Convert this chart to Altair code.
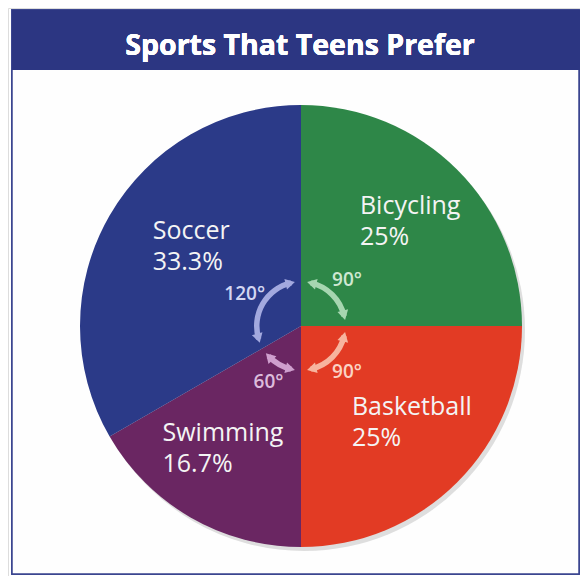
import altair as alt
import pandas as pd

# ---- data ----
SPORTS = ["Bicycling", "Basketball", "Swimming", "Soccer"]
PERCENT_LABELS = ["25%", "25%", "16.7%", "33.3%"]
DEGREES = [90, 90, 60, 120]
ANGLE_LABELS = ["90°", "90°", "60°", "120°"]
ORDER = [0, 1, 2, 3]

SLICE_COLORS = ["#2e8748", "#e23b24", "#6a2662", "#2b3a88"]
ARROW_COLORS = ["#a6d6b0", "#f7b49e", "#cf9fce", "#a3a9df"]
ANGLE_TEXT_COLORS = ["#cfe8d2", "#fbd3c4", "#dcbcdc", "#d3d6f2"]

TITLE = "Sports That Teens Prefer"

df = pd.DataFrame({"sport": SPORTS, "pct": PERCENT_LABELS, "deg": DEGREES,
                   "angle_label": ANGLE_LABELS, "order": ORDER})

# ---- layout ----
W, H = 572, 568
CX, CY = 293, 318
R = 221
FONT = "Open Sans"
LABEL_NUDGE = {"Bicycling": (-45, -16), "Basketball": (-53, -23),
               "Swimming": (-65, -20), "Soccer": (-21, -22)}

base = alt.Chart(df).transform_window(
    cum="sum(deg)", sort=[alt.SortField("order")], frame=[None, 0]
).transform_calculate(
    d0="datum.cum - datum.deg",
    d1="datum.cum",
    t0="datum.d0 * PI / 180",
    t1="datum.d1 * PI / 180",
    tm="(datum.d0 + datum.d1) / 2 * PI / 180",
)

def cscale(rng):
    return alt.Scale(domain=SPORTS, range=rng)

frame = alt.Chart(df).mark_rect(fill="#fefefe", stroke="#3b4690", strokeWidth=1.5).encode(
    x=alt.value(4), x2=alt.value(571), y=alt.value(2), y2=alt.value(566))

title_bar = alt.Chart(df).mark_rect(fill="#2c3682").encode(
    x=alt.value(4), x2=alt.value(572), y=alt.value(2), y2=alt.value(62))

title = alt.Chart(df).mark_text(text=TITLE, font=FONT, fontSize=28.5, fontWeight="bold",
                                color="white", align="center", baseline="alphabetic").encode(
    x=alt.value(292), y=alt.value(47))

shadow = base.mark_arc(radius=R, color="#c8c8c8", opacity=0.6).encode(
    theta=alt.Theta("t0:Q", scale=None), theta2="t1:Q",
    x=alt.value(CX + 3), y=alt.value(CY + 4))

pie = base.mark_arc(radius=R).encode(
    theta=alt.Theta("t0:Q", scale=None), theta2="t1:Q",
    x=alt.value(CX), y=alt.value(CY),
    color=alt.Color("sport:N", scale=cscale(SLICE_COLORS), legend=None))

arrows = base.transform_calculate(
    a0="datum.t0 + 13 * PI / 180", a1="datum.t1 - 13 * PI / 180"
).mark_arc(radius=47, radius2=41.5).encode(
    theta=alt.Theta("a0:Q", scale=None), theta2="a1:Q",
    x=alt.value(CX), y=alt.value(CY),
    color=alt.Color("sport:N", scale=cscale(ARROW_COLORS), legend=None))

heads = base.transform_calculate(
    h0="datum.t0 + 14 * PI / 180", h1="datum.t1 - 14 * PI / 180"
).transform_fold(["h0", "h1"], as_=["end", "ang"]).transform_calculate(
    rot="datum.end == 'h0' ? (datum.ang * 180 / PI + 270) % 360 : (datum.ang * 180 / PI + 90) % 360",
    px=f"{CX} + 44.25 * sin(datum.ang)",
    py=f"{CY} - 44.25 * cos(datum.ang)",
).mark_point(shape="triangle-up", filled=True, size=120, opacity=1).encode(
    x=alt.X("px:Q", scale=None, axis=None), y=alt.Y("py:Q", scale=None, axis=None),
    angle=alt.Angle("rot:Q", scale=None),
    color=alt.Color("sport:N", scale=cscale(ARROW_COLORS), legend=None))

angle_text = base.transform_calculate(
    px=f"{CX} + 65 * sin(datum.tm)", py=f"{CY} - 65 * cos(datum.tm)"
).mark_text(font=FONT, fontSize=19, fontWeight=600, baseline="middle", align="center").encode(
    x=alt.X("px:Q", scale=None, axis=None), y=alt.Y("py:Q", scale=None, axis=None),
    text="angle_label:N",
    color=alt.Color("sport:N", scale=cscale(ANGLE_TEXT_COLORS), legend=None))

name_layers = []
for s in SPORTS:
    ndx, ndy = LABEL_NUDGE[s]
    name_layers.append(
        base.transform_calculate(
            px=f"{CX} + 147 * sin(datum.tm)", py=f"{CY} - 147 * cos(datum.tm)",
            txt="datum.sport + '\\n' + datum.pct",
        ).transform_filter(alt.datum.sport == s).mark_text(
            font=FONT, fontSize=25, color="#f4f4f4", align="left", baseline="middle",
            lineBreak="\n", lineHeight=31, dx=ndx, dy=ndy,
        ).encode(
            x=alt.X("px:Q", scale=None, axis=None), y=alt.Y("py:Q", scale=None, axis=None),
            text="txt:N")
    )

chart = alt.layer(frame, title_bar, title, shadow, pie, arrows, heads, angle_text, *name_layers).resolve_scale(
    color="independent"
).properties(width=W, height=H, padding=0, autosize=alt.AutoSizeParams(type="none")).configure_view(
    stroke=None).configure(background="white")

chart.save("out.html", embed_options={"renderer": "svg", "actions": False})
